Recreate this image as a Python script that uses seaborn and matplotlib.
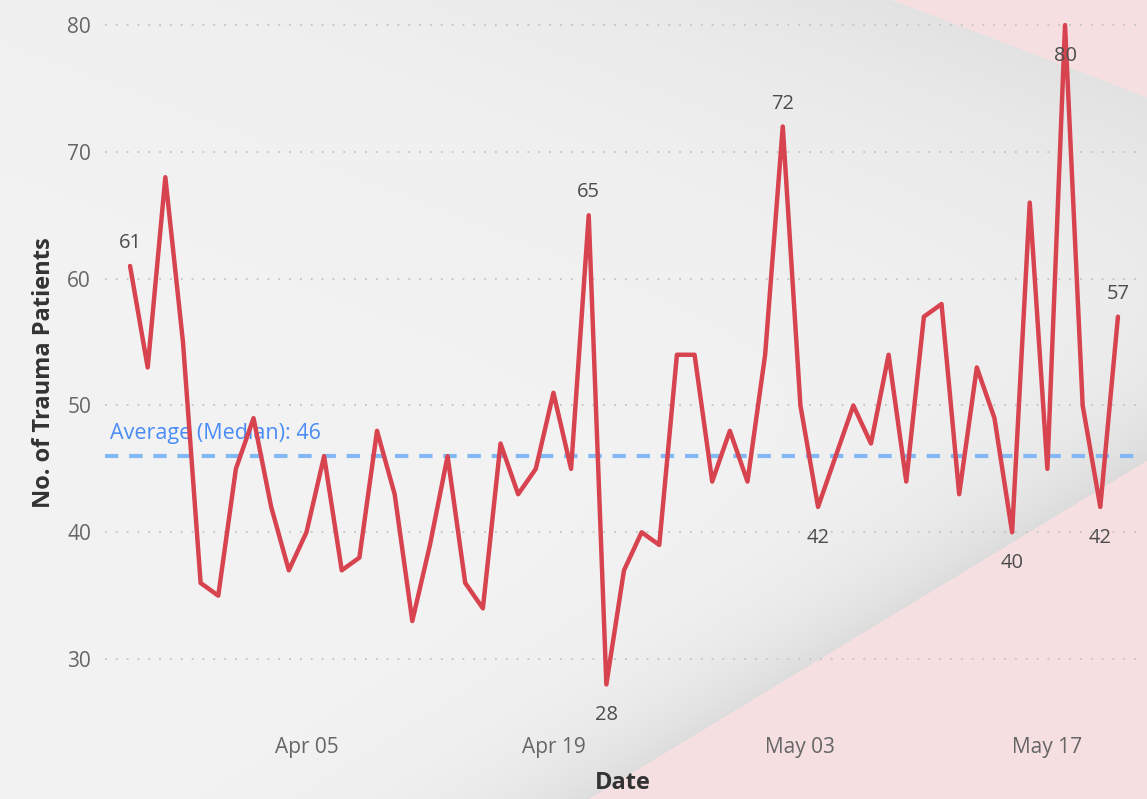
import matplotlib.pyplot as plt
import matplotlib.dates as mdates
import matplotlib.transforms as mtransforms
import numpy as np
import pandas as pd
import seaborn as sns

# daily trauma patient counts, 26 Mar - 21 May
start_date = "2020-03-26"
patients = [
    61, 53, 68, 55, 36, 35,
    45, 49, 42, 37, 40, 46, 37, 38, 48, 43, 33, 39, 46, 36, 34,
    47, 43, 45, 51, 45, 65, 28, 37, 40, 39, 54, 54, 44, 48, 44,
    54, 72, 50, 42, 46, 50, 47, 54, 44, 57, 58, 43, 53, 49, 40,
    66, 45, 80, 50, 42, 57,
]
# (date, position of the data label)
labelled = [
    ("2020-03-26", "above"),
    ("2020-04-21", "above"),
    ("2020-04-22", "below"),
    ("2020-05-02", "above"),
    ("2020-05-04", "below"),
    ("2020-05-15", "below"),
    ("2020-05-18", "below"),
    ("2020-05-20", "below"),
    ("2020-05-21", "above"),
]
tick_dates = ["2020-04-05", "2020-04-19", "2020-05-03", "2020-05-17"]

df = pd.DataFrame({
    "Date": pd.date_range(start_date, periods=len(patients), freq="D"),
    "Patients": patients,
})
median = df["Patients"].median()

W, H = 1147, 799
sns.set_theme(style="white")
plt.rcParams["font.family"] = ["Open Sans", "DejaVu Sans"]

fig = plt.figure(figsize=(W / 100, H / 100), dpi=100)


def side_dist(xx, yy, p0, p1, corner):
    # signed distance to the edge p0-p1, positive on the side of `corner`
    (x0, y0), (x1, y1) = p0, p1
    nx, ny = (y1 - y0), -(x1 - x0)
    norm = np.hypot(nx, ny)
    d = ((xx - x0) * nx + (yy - y0) * ny) / norm
    s = np.sign((corner[0] - x0) * nx + (corner[1] - y0) * ny)
    return d * s


# decorative background (grey with pink diagonal bands)
bg = fig.add_axes([0, 0, 1, 1])
yy, xx = np.mgrid[0:H, 0:W].astype(float)
img = np.ones((H, W, 3)) * 243 / 255
pink = np.array([246, 223, 225]) / 255

d_low = side_dist(xx, yy, (588, 799), (1147, 460), (W, H))
d_top = side_dist(xx, yy, (893, 0), (1147, 97), (W, 0))

shade = 0.085 * np.exp(np.clip(d_low, None, 0) / 65) * (d_low < 0)
shade += 0.065 * np.exp(np.clip(d_top, None, 0) / 170) * (d_top < 0)
img = img - shade[..., None]
img[d_low > 0] = pink
img[d_top > 0] = pink
bg.imshow(img, extent=[0, W, H, 0], aspect="auto")
bg.axis("off")

ax = fig.add_axes([105 / W, 74 / H, 1035 / W, 705 / H])
ax.patch.set_alpha(0)

sns.lineplot(data=df, x="Date", y="Patients", ax=ax, color="#d7434f",
             linewidth=3.2, zorder=3)

ax.axhline(median, color="#82b8f4", linewidth=3, linestyle=(0, (3.2, 2.6)),
           zorder=2)
ax.text(110 / W, median + 0.95, f"Average (Median): {median:.0f}",
        transform=mtransforms.blended_transform_factory(fig.transFigure, ax.transData),
        color="#4a8cf5", fontsize=15.5, ha="left", va="bottom", zorder=2)

for d, where in labelled:
    d = pd.Timestamp(d)
    v = df.loc[df["Date"] == d, "Patients"].iloc[0]
    off = 23 if where == "above" else -31
    ax.annotate(f"{v}", (d, v), xytext=(0, off), textcoords="offset pixels",
                ha="center", va="center", fontsize=14.5, color="#4d4d4d", zorder=4)

ax.set_ylim(24.8, 80.4)
ax.set_xlim(pd.Timestamp(start_date) - pd.Timedelta(days=1.42),
            df["Date"].iloc[-1] + pd.Timedelta(days=1.25))
ax.set_yticks([30, 40, 50, 60, 70, 80])
ax.set_xticks(pd.to_datetime(tick_dates))
ax.xaxis.set_major_formatter(mdates.DateFormatter("%b %d"))
ax.grid(axis="y", color="#c4c4c4", linestyle=(0, (1, 5)), linewidth=1.3)
ax.tick_params(axis="both", length=0, labelsize=15, labelcolor="#666666")
ax.tick_params(axis="y", pad=10)
ax.tick_params(axis="x", pad=9)
for s in ax.spines.values():
    s.set_visible(False)

ax.set_xlabel("Date", fontsize=17, color="#333333", fontweight="bold", labelpad=9)
ax.set_ylabel("No. of Trauma Patients", fontsize=17, color="#333333",
              fontweight="bold", labelpad=8)

fig.savefig("out.png", dpi=100)
